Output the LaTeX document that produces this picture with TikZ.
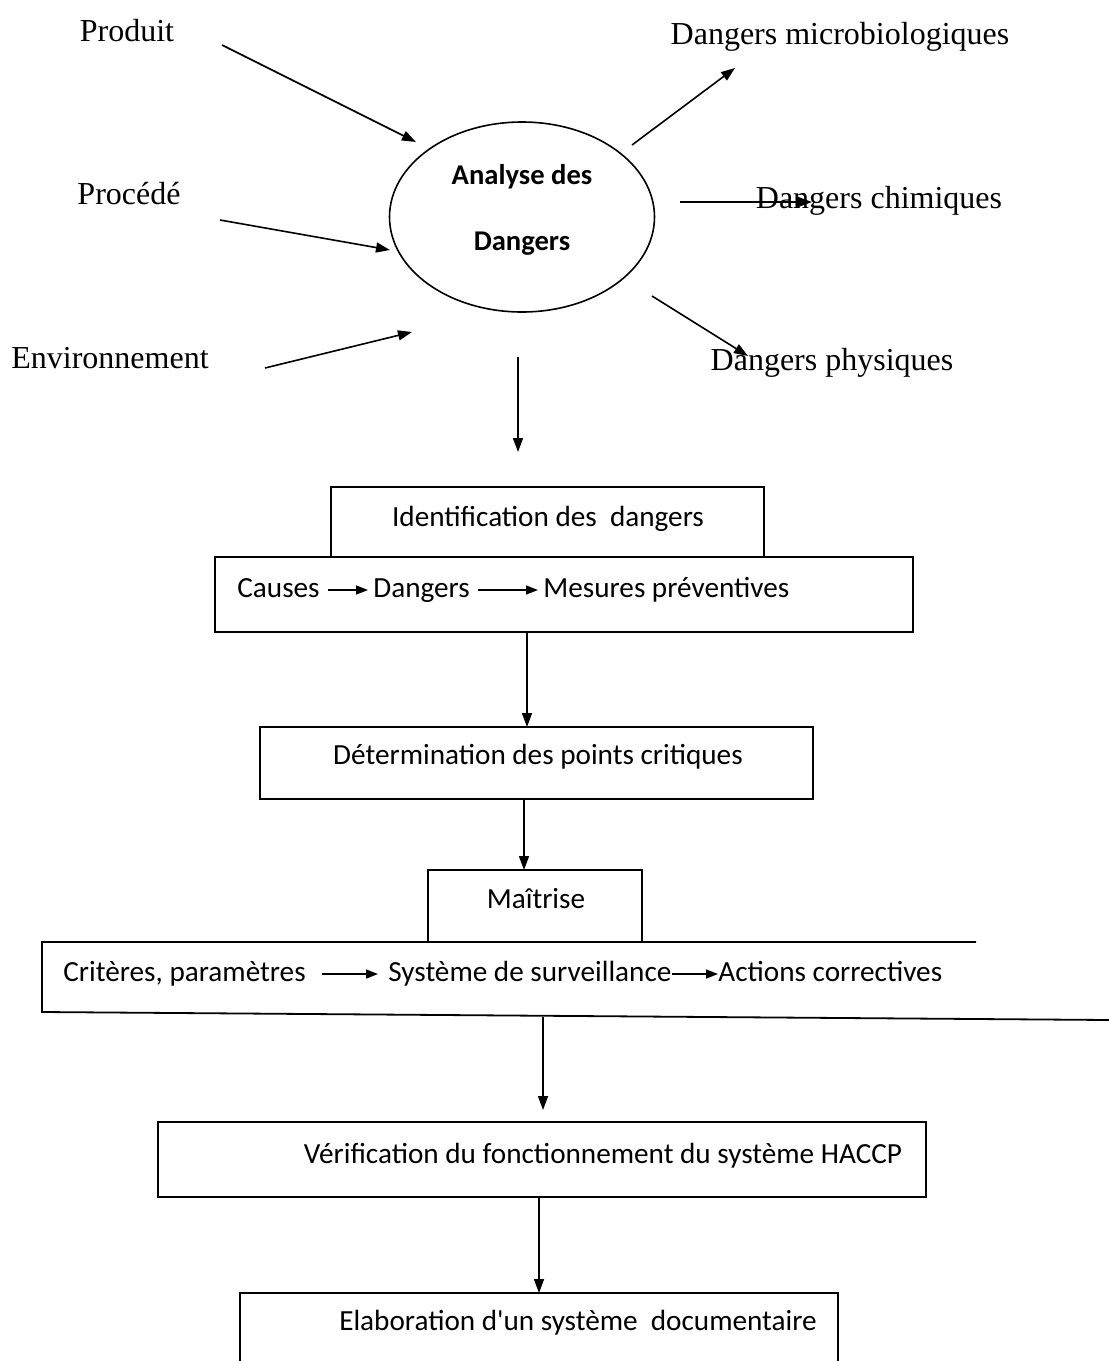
\documentclass[tikz,border=0pt]{standalone}
\usepackage{fontspec}
\setmainfont{Liberation Serif}
\newfontfamily\calib{Carlito}
\usetikzlibrary{arrows.meta,shapes.geometric}

\begin{document}
\begin{tikzpicture}[x=0.5pt,y=-0.5pt,
  lbl/.style={font=\fontsize{16}{19}\selectfont, inner sep=0pt},
  boxtxt/.style={font=\calib\fontsize{14.6}{18}\selectfont, inner sep=0pt,
                 text height=10.5pt, text depth=3pt},
  boldtxt/.style={font=\calib\bfseries\fontsize{14.3}{17}\selectfont, inner sep=0pt},
  frame/.style={draw, line width=0.9pt, inner sep=0pt, outer sep=0pt},
  arr/.style={line width=0.8pt, -{Triangle[length=7pt,width=5pt]}},
  smallarr/.style={line width=0.8pt, -{Triangle[length=6pt,width=4.5pt]}}]
\useasboundingbox (0,0) rectangle (1109,1361);

% ---------- hazard analysis ----------
\node[draw, ellipse, line width=0.8pt, inner sep=0pt,
      minimum width=132.5pt, minimum height=95pt] (ana) at (522,217) {};
\node[boldtxt] (anaA) at (522,177) {Analyse des};
\node[boldtxt] (anaB) at (522,244) {Dangers};

% inputs
\node[lbl] (prod) at (127,31) {Produit};
\node[lbl] (proc) at (129,194) {Procédé};
\node[lbl] (env)  at (110,358) {Environnement};
\coordinate (prodS) at (222,45);   \coordinate (prodE) at (416,142);
\coordinate (procS) at (220,220);  \coordinate (procE) at (390,250);
\coordinate (envS)  at (265,368);  \coordinate (envE)  at (412,332);
\draw[arr] (prodS) -- (prodE);
\draw[arr] (procS) -- (procE);
\draw[arr] (envS) -- (envE);

% outputs
\coordinate (micS) at (632,145);  \coordinate (micE) at (735,68);
\coordinate (chiS) at (680,202);  \coordinate (chiE) at (812,202);
\coordinate (phyS) at (652,296);  \coordinate (phyE) at (748,356);
\draw[arr] (micS) -- (micE);
\draw[arr] (chiS) -- (chiE);
\draw[arr] (phyS) -- (phyE);
\node[lbl] (mic) at (840,37)  {Dangers microbiologiques};
\node[lbl] (chi) at (879,201) {Dangers chimiques};
\node[lbl] (phy) at (832,363) {Dangers physiques};

% down to identification
\coordinate (d0S) at (518,357); \coordinate (d0E) at (518,452);
\draw[arr] (d0S) -- (d0E);

% ---------- identification ----------
\node[frame, minimum width=216.5pt, minimum height=35pt] (b1) at (547.5,522) {};
\node[boxtxt] (b1t) at (548,519) {Identification des\ \ dangers};
\node[frame, minimum width=349pt, minimum height=37.5pt] (b2) at (564,594.5) {};
\node[boxtxt, anchor=west] (c1) at (237,590) {Causes};
\node[boxtxt, anchor=west] (c2) at (373,590) {Dangers};
\node[boxtxt, anchor=west] (c3) at (543,590) {Mesures préventives};
\draw[smallarr, shorten <=4pt, shorten >=2.5pt] (c1.east) -- (c2.west);
\draw[smallarr, shorten <=4pt, shorten >=2.5pt] (c2.east) -- (c3.west);

% ---------- critical points ----------
\coordinate (x1) at (527,0);
\node[frame, minimum width=276.5pt, minimum height=36pt] (b3) at (536.5,763) {};
\node[boxtxt] (b3t) at (538,757) {Détermination des points critiques};
\draw[arr] (b2.south -| x1) -- (b3.north -| x1);

% ---------- control ----------
\coordinate (x2) at (524,0);
\node[frame, minimum width=107pt, minimum height=36pt] (b4) at (535,906) {};
\node[boxtxt] (b4t) at (536,901) {Maîtrise};
\draw[arr] (b3.south -| x2) -- (b4.north -| x2);

\coordinate (b5tr) at (976,942);
\coordinate (b5tl) at (42,942);
\coordinate (b5bl) at (42,1012);
\coordinate (b5br) at (1109,1020);
\draw[line width=0.9pt] (b5tr) -- (b5tl) -- (b5bl) -- (b5br);
\node[boxtxt, anchor=west] (k1) at (63,974) {Critères, paramètres};
\node[boxtxt, anchor=west] (k2) at (388,974) {Système de surveillance};
\node[boxtxt, anchor=west] (k3) at (718,974) {Actions correctives};
\draw[smallarr, shorten <=8pt, shorten >=5pt] (k1.east) -- (k2.west);
\draw[smallarr] (k2.east) -- (k3.west);

% ---------- verification ----------
\coordinate (d5S) at (543,1017); \coordinate (d5E) at (543,1110);
\draw[arr] (d5S) -- (d5E);
\node[frame, minimum width=384pt, minimum height=37.5pt] (b6) at (542,1159.5) {};
\node[boxtxt] (b6t) at (603,1156) {Vérification du fonctionnement du système HACCP};

% ---------- documentation ----------
\coordinate (b7bl) at (240,1361);
\coordinate (b7tl) at (240,1293);
\coordinate (b7tr) at (838,1293);
\coordinate (b7br) at (838,1361);
\draw[line width=0.9pt] (b7bl) -- (b7tl) -- (b7tr) -- (b7br);
\node[boxtxt] (b7t) at (578,1323) {Elaboration d'un système\ \ documentaire};
\coordinate (x6) at (539,0);
\draw[arr] (b6.south -| x6) -- (b7tl -| x6);

\end{tikzpicture}
\end{document}
